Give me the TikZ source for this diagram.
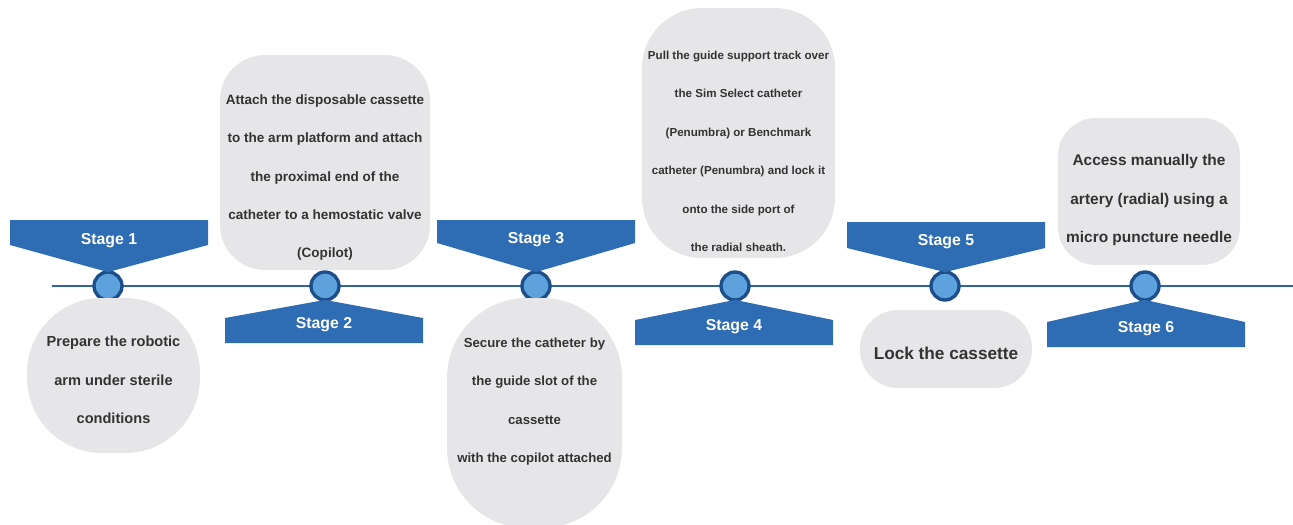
\documentclass[tikz,border=0pt]{standalone}
\usepackage{fontspec}
\setmainfont{Liberation Sans}
\usepackage{tikz}
\usetikzlibrary{positioning}

\definecolor{bannerblue}{HTML}{2E6DB4}
\definecolor{lineblue}{HTML}{2F62A8}
\definecolor{dotfill}{HTML}{5DA2DD}
\definecolor{dotdraw}{HTML}{1C4F8A}
\definecolor{bubblegray}{HTML}{E6E6E8}
\definecolor{textgray}{HTML}{333333}

\begin{document}
\begin{tikzpicture}[x=0.02cm,y=-0.02cm,line width=1.7pt]
%pixel grid, y downwards

  \tikzstyle{bubble}=[draw=none,fill=bubblegray,inner sep=0pt]
  \tikzstyle{bubtext}=[text=textgray,align=center,inner sep=0pt]
  \tikzstyle{dot}=[circle,fill=dotfill,draw=dotdraw,line width=1.9pt,minimum size=0.56cm,inner sep=0pt]
  \tikzstyle{stagetext}=[text=white,font=\fontsize{9}{10}\selectfont\bfseries]

  \useasboundingbox (0,0) rectangle (1293,524);

  % timeline
  \coordinate (tstart) at (52,286);
  \coordinate (tend) at (1293,286);
  \draw[lineblue] (tstart) -- (tend);

  \node[dot] (s1) at (108,286) {};
  \node[dot] (s2) at (325,286) {};
  \node[dot] (s3) at (536,286) {};
  \node[dot] (s4) at (735,286) {};
  \node[dot] (s5) at (945,286) {};
  \node[dot] (s6) at (1145,286) {};

  % banners above
  \foreach \n/\l/\t/\s/\ty in {1/10/220/245/241, 3/437/220/243/240, 5/847/222/248/242}{
    \fill[bannerblue] (\l,\t) -- ({\l+198},\t) -- ({\l+198},\s) -- ([yshift=-1pt]s\n.north) -- (\l,\s) -- cycle;
    \node[stagetext] (lab\n) at ({\l+99},\ty) {Stage \n};
  }
  % banners below
  \foreach \n/\l/\t/\s/\ty in {2/225/318/343/325, 4/635/320/345/327, 6/1047/322/347/329}{
    \fill[bannerblue] (\l,\t) -- ([yshift=1pt]s\n.south) -- ({\l+198},\t) -- ({\l+198},\s) -- (\l,\s) -- cycle;
    \node[stagetext] (lab\n) at ({\l+99},\ty) {Stage \n};
  }

  % bubbles
  \node[bubble,minimum width=3.46cm,minimum height=3.1cm,rounded corners=1.5cm] (b1) at (113.5,375.5) {};
  \node[bubble,minimum width=4.2cm,minimum height=4.3cm,rounded corners=0.9cm] (b2) at (325,162.5) {};
  \node[bubble,minimum width=3.5cm,minimum height=4.6cm,rounded corners=1.6cm] (b3) at (534.5,413) {};
  \node[bubble,minimum width=3.86cm,minimum height=5cm,rounded corners=1.2cm] (b4) at (738.5,133) {};
  \node[bubble,minimum width=3.44cm,minimum height=1.56cm,rounded corners=0.76cm] (b5) at (946,349) {};
  \node[bubble,minimum width=3.64cm,minimum height=2.94cm,rounded corners=0.76cm] (b6) at (1149,191.5) {};

  \node[bubtext,font=\fontsize{8.3}{21.9}\selectfont\bfseries] (t1) at (113.5,380)
    {Prepare the robotic\\arm under sterile\\conditions};
  \node[bubtext,font=\fontsize{7.7}{21.9}\selectfont\bfseries] (t2) at (325,177.5)
    {Attach the disposable cassette\\to the arm platform and attach\\the proximal end of the\\catheter to a hemostatic valve\\(Copilot)};
  \node[bubtext,font=\fontsize{7.5}{21.9}\selectfont\bfseries] (t3) at (534.5,401.5)
    {Secure the catheter by\\the guide slot of the\\cassette\\with the copilot attached};
  \node[bubtext,font=\fontsize{6.6}{21.9}\selectfont\bfseries] (t4) at (738.5,151.5)
    {Pull the guide support track over\\the Sim Select catheter\\(Penumbra) or Benchmark\\catheter (Penumbra) and lock it\\onto the side port of\\the radial sheath.};
  \node[bubtext,font=\fontsize{9.8}{12}\selectfont\bfseries] (t5) at (946,353)
    {Lock the cassette};
  \node[bubtext,font=\fontsize{8.8}{21.9}\selectfont\bfseries] (t6) at (1149,200)
    {Access manually the\\artery (radial) using a\\micro puncture needle};

\end{tikzpicture}
\end{document}
